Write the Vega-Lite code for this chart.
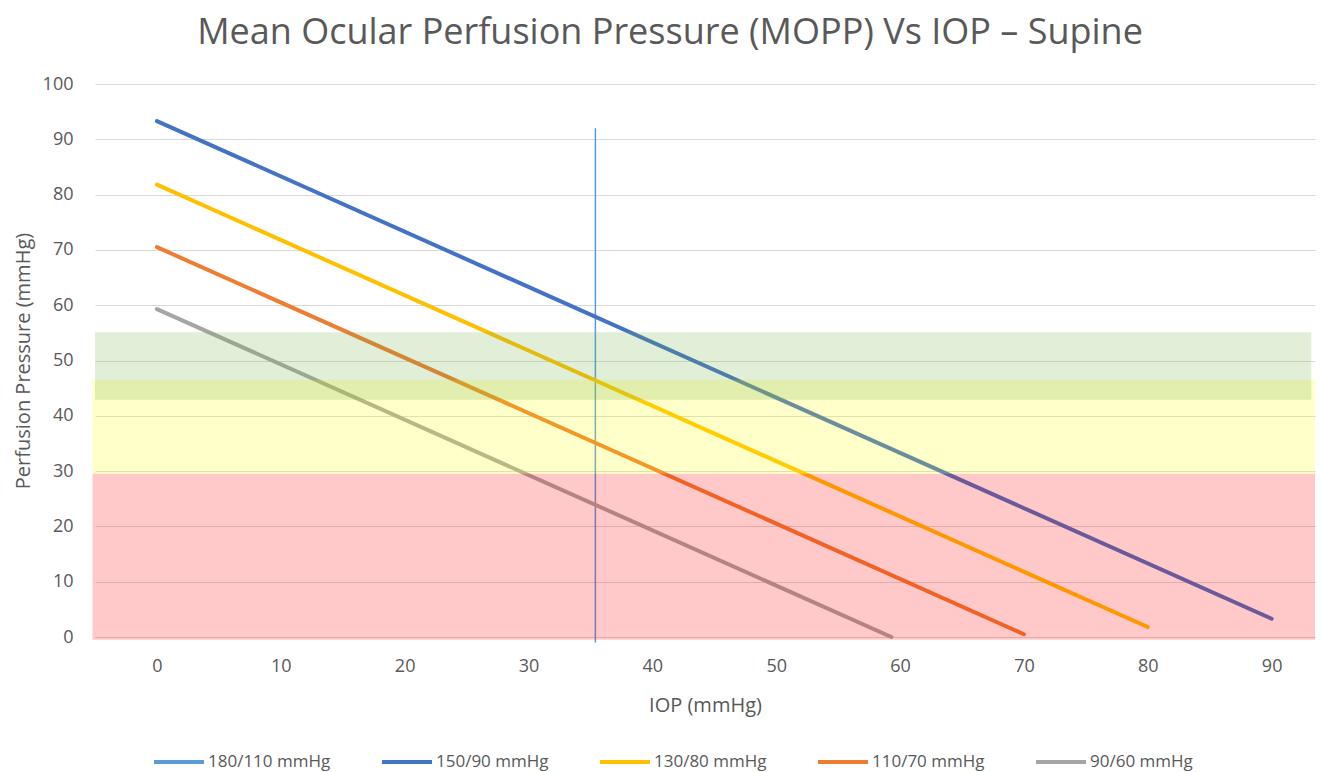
{
  "$schema": "https://vega.github.io/schema/vega-lite/v6.json",
  "autosize": {"type": "none"},
  "width": 1220,
  "height": 553,
  "padding": {"left": 95, "top": 84, "right": 6, "bottom": 135},
  "background": "white",
  "config": {
    "font": "Open Sans",
    "view": {"stroke": null},
    "axis": {"labelColor": "#595959", "titleColor": "#595959", "labelFont": "Open Sans", "titleFont": "Open Sans", "titleFontWeight": "normal"}
  },
  "title": {
    "text": "Mean Ocular Perfusion Pressure (MOPP) Vs IOP – Supine",
    "fontSize": 36,
    "font": "Open Sans",
    "fontWeight": "normal",
    "color": "#595959",
    "anchor": "middle",
    "dx": -35,
    "offset": 23
  },
  "datasets": {
    "lines": [
      {"series": "180/110 mmHg", "iop": 35.4, "mopp": 92},
      {"series": "180/110 mmHg", "iop": 35.4, "mopp": -1},
      {"series": "150/90 mmHg", "iop": 0, "mopp": 93.3},
      {"series": "150/90 mmHg", "iop": 90, "mopp": 3.3},
      {"series": "130/80 mmHg", "iop": 0, "mopp": 81.8},
      {"series": "130/80 mmHg", "iop": 80, "mopp": 1.8},
      {"series": "110/70 mmHg", "iop": 0, "mopp": 70.5},
      {"series": "110/70 mmHg", "iop": 70, "mopp": 0.5},
      {"series": "90/60 mmHg", "iop": 0, "mopp": 59.3},
      {"series": "90/60 mmHg", "iop": 59.3, "mopp": 0}
    ],
    "bands": [
      {"zone": "red", "lo": -0.5, "hi": 29.5, "x0": -5.2, "x1": 93.5},
      {"zone": "yellow", "lo": 29.5, "hi": 46.5, "x0": -5.2, "x1": 93.5},
      {"zone": "green", "lo": 42.9, "hi": 55.1, "x0": -5, "x1": 93.2}
    ]
  },
  "layer": [
    {
      "data": {"name": "lines"},
      "transform": [{"filter": "datum.series === '180/110 mmHg'"}],
      "mark": {"type": "line", "strokeWidth": 1.5},
      "encoding": {
        "x": {"field": "iop", "type": "quantitative", "scale": {"domain": [-5, 93.5], "nice": false, "zero": false},
          "axis": {"values": [0,10,20,30,40,50,60,70,80,90], "title": "IOP (mmHg)", "grid": false, "ticks": false, "domain": true, "domainColor": "#d9d9d9", "labelFontSize": 18, "labelPadding": 20, "titleFontSize": 20, "titlePadding": 20}},
        "y": {"field": "mopp", "type": "quantitative", "scale": {"domain": [0, 100], "nice": false},
          "axis": {"values": [0,10,20,30,40,50,60,70,80,90,100], "title": "Perfusion Pressure (mmHg)", "grid": true, "gridColor": "#d9d9d9", "ticks": false, "domain": false, "labelFontSize": 18, "labelPadding": 22, "titleFontSize": 20, "titlePadding": 9}},
        "color": {"field": "series", "type": "nominal",
          "scale": {"domain": ["180/110 mmHg", "150/90 mmHg", "130/80 mmHg", "110/70 mmHg", "90/60 mmHg"], "range": ["#5b9bd5", "#4472c4", "#ffc000", "#ed7d31", "#a5a5a5"]},
          "legend": {"orient": "none", "direction": "horizontal", "legendX": 57, "legendY": 651, "title": null, "symbolType": "stroke", "symbolStrokeWidth": 4, "symbolSize": 2500, "labelFontSize": 17, "labelColor": "#595959", "labelFont": "Open Sans", "columnPadding": 43, "labelOffset": 2}},
        "detail": {"field": "series"}
      }
    },
    {
      "data": {"name": "lines"},
      "transform": [{"filter": "datum.series !== '180/110 mmHg'"}],
      "mark": {"type": "line", "strokeWidth": 4, "strokeCap": "round"},
      "encoding": {
        "x": {"field": "iop", "type": "quantitative"},
        "y": {"field": "mopp", "type": "quantitative"},
        "color": {"field": "series", "type": "nominal"}
      }
    },
    {
      "data": {"name": "bands"},
      "mark": {"type": "rect", "opacity": 0.21},
      "encoding": {
        "x": {"field": "x0", "type": "quantitative"},
        "x2": {"field": "x1"},
        "y": {"field": "lo", "type": "quantitative"},
        "y2": {"field": "hi"},
        "fill": {"field": "zone", "type": "nominal", "scale": {"domain": ["red", "yellow", "green"], "range": ["#ff0000", "#ffff00", "#70ad47"]}, "legend": null}
      }
    }
  ]
}
